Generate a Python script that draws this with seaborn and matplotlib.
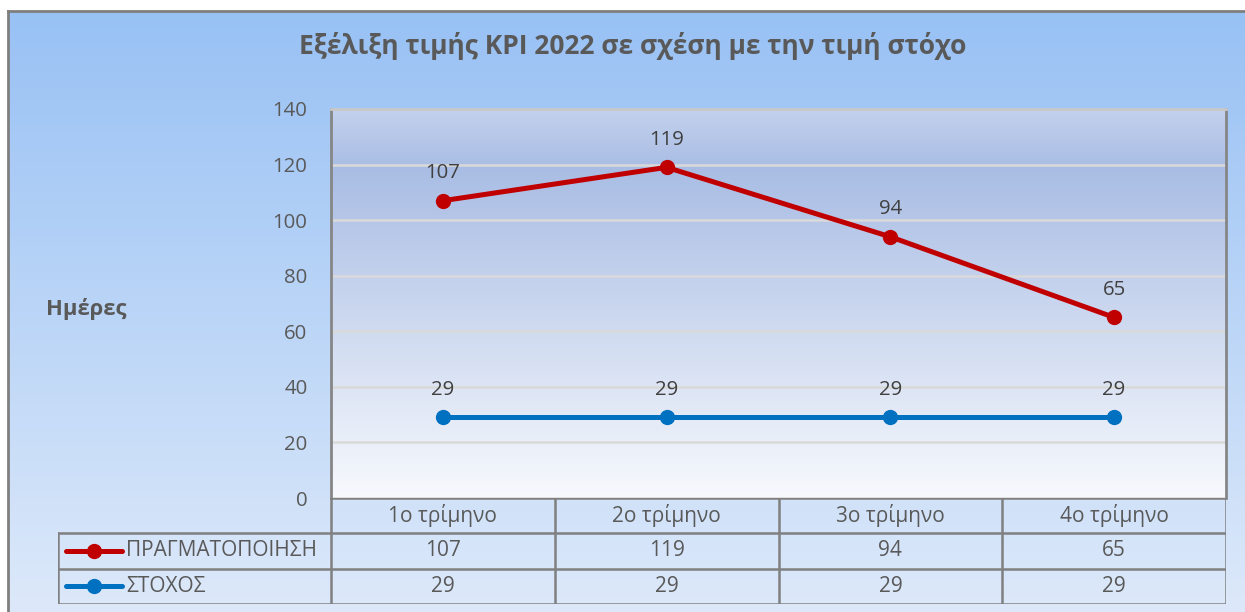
import numpy as np
import pandas as pd
import matplotlib
matplotlib.use("Agg")
import matplotlib.pyplot as plt
from matplotlib.colors import LinearSegmentedColormap
import seaborn as sns

# ---- data ----
categories = ["1ο τρίμηνο", "2ο τρίμηνο", "3ο τρίμηνο", "4ο τρίμηνο"]
actual = [107, 119, 94, 65]
target = [29, 29, 29, 29]
series_names = ["ΠΡΑΓΜΑΤΟΠΟΙΗΣΗ", "ΣΤΟΧΟΣ"]
yticks = [0, 20, 40, 60, 80, 100, 120, 140]
title = "Εξέλιξη τιμής KPI 2022 σε σχέση με την τιμή στόχο"
ylabel = "Ημέρες"

colors = ["#c00000", "#0070c0"]
txt = "#595959"

sns.set_theme(style="white")
plt.rcParams["font.family"] = ["Open Sans", "DejaVu Sans"]

W, H = 1245, 612
fig = plt.figure(figsize=(W / 100, H / 100), dpi=100)
fig.patch.set_facecolor("white")

# figure background gradient
bg = fig.add_axes([8 / W, 0, 1 - 8 / W, 1 - 11 / H], zorder=-10)
grad = np.linspace(0, 1, 256).reshape(-1, 1)
cm_bg = LinearSegmentedColormap.from_list("bg", ["#98c1f4", "#dde9fa"])
bg.imshow(grad, aspect="auto", cmap=cm_bg, extent=[0, 1, 0, 1], origin="upper")
bg.set_xlim(0, 1); bg.set_ylim(0, 1)
bg.set_xticks([]); bg.set_yticks([])
for s in ["left", "top"]:
    bg.spines[s].set_color("#7f7f7f"); bg.spines[s].set_linewidth(2)
for s in ["right", "bottom"]:
    bg.spines[s].set_visible(False)

# main axes
x0, x1, y0, y1 = 331, 1226, 109, 498
ax = fig.add_axes([x0 / W, (H - y1) / H, (x1 - x0) / W, (y1 - y0) / H])
ax.set_facecolor("none")
cm_pa = LinearSegmentedColormap.from_list(
    "pa", [(0, "#c3d1ed"), (0.15, "#a9bde4"), (1.0, "#f7f9fd")])
ax.imshow(grad, aspect="auto", cmap=cm_pa, extent=[0, 1, 0, 1],
          transform=ax.transAxes, origin="upper", zorder=0)

df = pd.DataFrame({
    "cat": categories * 2,
    "x": list(range(len(categories))) * 2,
    "val": actual + target,
    "series": [series_names[0]] * 4 + [series_names[1]] * 4,
})
sns.lineplot(data=df, x="x", y="val", hue="series", palette=colors,
             marker="o", markersize=11, markeredgewidth=0, linewidth=3.6,
             legend=False, ax=ax, zorder=5)

for vals in (actual, target):
    for i, v in enumerate(vals):
        ax.annotate(str(v), (i, v), xytext=(0, 20), textcoords="offset points",
                    ha="center", va="center", fontsize=14.7, color="#404040", zorder=6)

ax.set_xlim(-0.5, 3.5)
ax.set_ylim(0, 140)
ax.set_yticks(yticks)
ax.set_yticklabels([str(t) for t in yticks], fontsize=14.7, color=txt)
ax.set_xticks([])
ax.tick_params(axis="y", length=0, pad=17)
ax.grid(axis="y", color="#d9d9d9", linewidth=1.8, zorder=1)
ax.set_axisbelow(True)
ax.set_xlabel(""); ax.set_ylabel("")
ax.spines["left"].set_color("#868686"); ax.spines["left"].set_linewidth(2)
ax.spines["right"].set_color("#868686"); ax.spines["right"].set_linewidth(2)
ax.spines["top"].set_color("#c8c8c8"); ax.spines["top"].set_linewidth(2)
ax.spines["bottom"].set_visible(False)

fig.text(86 / W, 1 - 309 / H, ylabel, ha="center", va="center",
         fontsize=15.8, fontweight="bold", color=txt)
fig.text(633 / W, 1 - 46 / H, title, ha="center", va="center",
         fontsize=19, fontweight="bold", color=txt)

# data table
colw = (x1 - x0) / 4
left = -0.5 - (x0 - 58) / colw
tab = fig.add_axes([58 / W, (H - 604) / H, (x1 - 58) / W, (604 - 498) / H])
tab.set_facecolor("none")
tab.set_xlim(left, 3.5)
tab.set_ylim(3, 0)
tab.axis("off")
lc = "#808080"; lw = 1.8
tab.plot([-0.5, 3.5], [0, 0], color=lc, lw=lw)
for yy in (1, 2, 3):
    tab.plot([left, 3.5], [yy, yy], color=lc, lw=lw)
for xx in (-0.5, 0.5, 1.5, 2.5, 3.5):
    tab.plot([xx, xx], [0, 3], color=lc, lw=lw)
tab.plot([left, left], [1, 3], color=lc, lw=lw)
fs_tab = 15
for i, c in enumerate(categories):
    tab.text(i, 0.5, c, ha="center", va="center", fontsize=fs_tab, color=txt)
for r, (name, vals, col) in enumerate(zip(series_names, (actual, target), colors)):
    yy = r + 1.5
    for i, v in enumerate(vals):
        tab.text(i, yy, str(v), ha="center", va="center", fontsize=fs_tab, color=txt)
    kx0 = left + 8 / colw; kx1 = left + 64 / colw; km = left + 36 / colw
    tab.plot([kx0, kx1], [yy, yy], color=col, lw=3.6, solid_capstyle="round")
    tab.plot([km], [yy], "o", color=col, markersize=11, markeredgewidth=0)
    tab.text(left + 68 / colw, yy, name, ha="left", va="center", fontsize=fs_tab, color=txt)

fig.savefig("out.png", dpi=100)
